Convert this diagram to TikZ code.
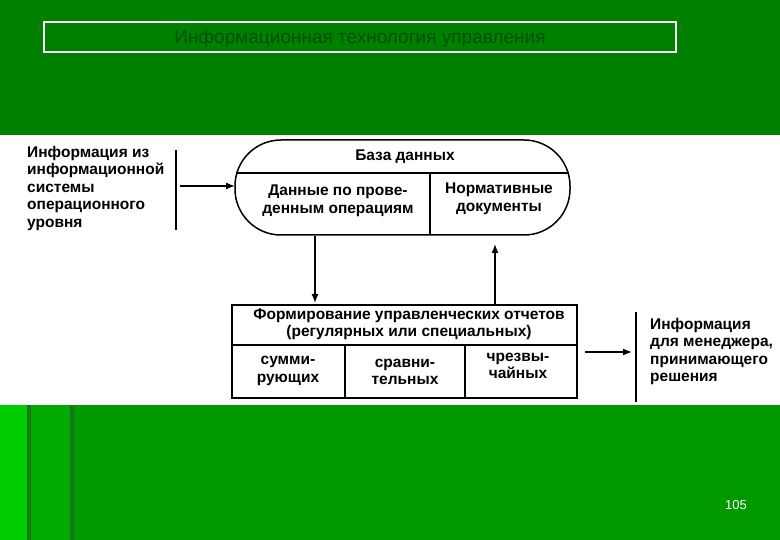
\documentclass[tikz,border=0pt]{standalone}
\usepackage{fontspec}
\setmainfont{Liberation Sans}
\definecolor{gtop}{RGB}{0,128,0}
\definecolor{gbot}{RGB}{0,153,0}
\definecolor{gbright}{RGB}{0,204,0}
\definecolor{gmid}{RGB}{0,170,0}
\definecolor{gline}{RGB}{20,120,20}
\definecolor{gtext}{RGB}{0,80,0}
\usetikzlibrary{arrows.meta}
\begin{document}
\begin{tikzpicture}[x=1pt,y=-1pt,
  lbl/.style={font=\bfseries\fontsize{15.5}{17.5}\selectfont, align=center, inner sep=0pt},
  lline/.style={line width=1.5pt},
  arr/.style={line width=1.3pt,-{Latex[length=9pt,width=7pt]}}]
\useasboundingbox (0,0) rectangle (780,540);
\fill[gtop] (0,0) rectangle (780,135);
\fill[white] (0,135) rectangle (780,405);
\fill[gbot] (0,405) rectangle (780,540);
\fill[gbright] (0,405) rectangle (27,540);
\fill[gmid] (27,405) rectangle (72,540);
\fill[gline] (27,405) rectangle (31,540);
\fill[gline] (70,405) rectangle (74,540);
\node[draw=white,line width=1.5pt,minimum width=632pt,minimum height=30pt,inner sep=0pt] (title) at (360,37) {};
\node[font=\fontsize{19}{22}\selectfont,text=gtext] (tt) at (360,39) {Информационная технология управления};
% left text
\node[lbl,align=left,anchor=north west] (src) at (27,146) {Информация из\\информационной\\системы\\операционного\\уровня};
\draw[lline] (176,150) coordinate (s1) -- (176,230) coordinate (s2);
\coordinate (sa) at (180,186);
% database
\draw[lline,rounded corners=46pt] (235,140) rectangle (570,235);
\coordinate (dbL) at (235,186);
\draw[lline] (236,173) -- (569,173);
\draw[lline] (430,173) -- (430,234);
\node[lbl] (db) at (405,157) {База данных};
\node[lbl] (d1) at (338,201) {Данные по прове-\\денным операциям};
\node[lbl] (d2) at (499,199) {Нормативные\\документы};
\draw[arr] (sa) -- (dbL);
% report box
\draw[lline] (232,305) rectangle (577,398);
\draw[lline] (232,345) -- (577,345);
\draw[lline] (345,345) -- (345,398);
\draw[lline] (465,345) -- (465,398);
\node[lbl] (rep) at (409,324) {Формирование управленческих отчетов\\(регулярных или специальных)};
\node[lbl] (r1) at (288,371) {сумми-\\рующих};
\node[lbl] (r2) at (405,372) {сравни-\\тельных};
\node[lbl] (r3) at (518,366) {чрезвы-\\чайных};
\coordinate (dn1) at (315,236);
\coordinate (dn2) at (315,303);
\draw[arr] (dn1) -- (dn2);
\coordinate (up1) at (495,304);
\coordinate (up2) at (495,244);
\draw[arr] (up1) -- (up2);
% output
\coordinate (oa) at (585,352);
\coordinate (ob) at (632,352);
\draw[arr] (oa) -- (ob);
\draw[lline] (636,312) -- (636,402);
\node[lbl,align=left,anchor=north west] (out) at (650,318) {Информация\\для менеджера,\\принимающего\\решения};
\node[text=white,font=\fontsize{13}{15}\selectfont] (pg) at (736,505) {105};
\end{tikzpicture}
\end{document}
